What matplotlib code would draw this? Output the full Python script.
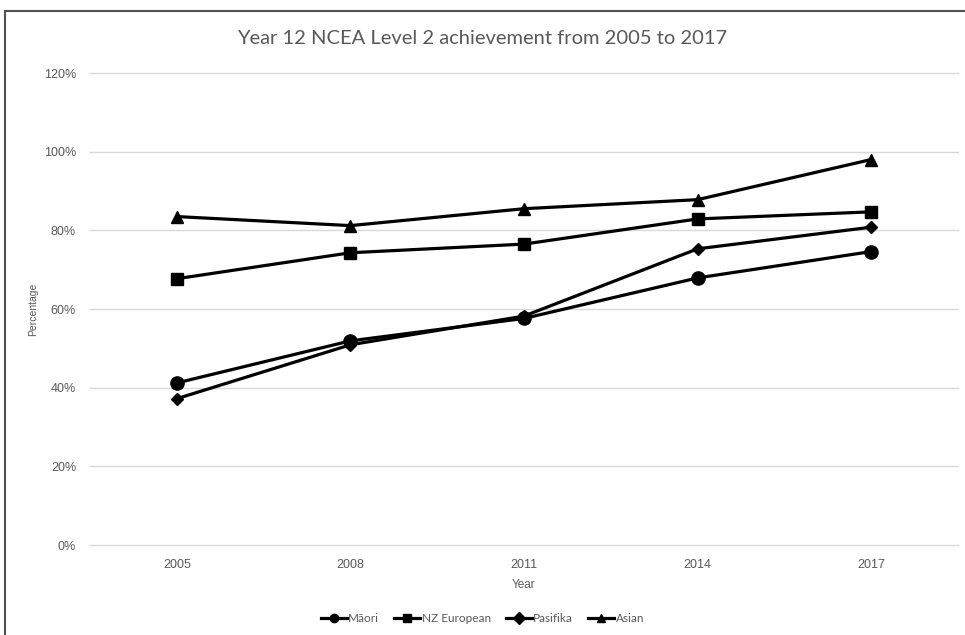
import matplotlib.pyplot as plt
from matplotlib.patches import Rectangle
from matplotlib.ticker import PercentFormatter

# --- Datos ---
years = ['2005', '2008', '2011', '2014', '2017']
maori = [41.2, 51.9, 57.6, 67.9, 74.6]
nz_european = [67.7, 74.3, 76.5, 82.9, 84.7]
pasifika = [37.2, 50.9, 58.2, 75.3, 80.8]
asian = [83.5, 81.2, 85.5, 87.8, 98.0]

series = [
    ('Māori', maori, 'o', 9.5),
    ('NZ European', nz_european, 's', 8.5),
    ('Pasifika', pasifika, 'D', 6),
    ('Asian', asian, '^', 8.5),
]

GRAY = '#595959'
narrow = ['Lato', 'DejaVu Sans']
plt.rcParams['font.family'] = ['Liberation Sans', 'DejaVu Sans']

fig = plt.figure(figsize=(9.65, 6.35), dpi=100)
ax = fig.add_axes([90 / 965, 90 / 635, 868 / 965, 472 / 635])

x = range(len(years))
for name, vals, mk, ms in series:
    ax.plot(x, vals, color='black', lw=2.3, marker=mk, ms=ms, label=name)

ax.set_xlim(-0.5, len(years) - 0.5)
ax.set_ylim(0, 120)
ax.set_yticks(range(0, 121, 20))
ax.yaxis.set_major_formatter(PercentFormatter(decimals=0))
ax.set_xticks(list(x))
ax.set_xticklabels(years)
ax.tick_params(length=0, labelsize=9, labelcolor=GRAY, pad=10)
ax.tick_params(axis='y', pad=10)
for gy in ax.get_yticks():
    ax.axhline(gy, color='#d9d9d9', lw=1, zorder=0, clip_on=False)
for s in ax.spines.values():
    s.set_visible(False)

ax.set_xlabel('Year', fontsize=8.5, color=GRAY, labelpad=6)
ax.set_ylabel('Percentage', fontsize=7.5, color=GRAY, labelpad=4)

fig.text(0.5, 1 - 38 / 635, 'Year 12 NCEA Level 2 achievement from 2005 to 2017',
         ha='center', va='center', fontsize=14.5, color=GRAY, family=narrow)

leg = fig.legend(loc='center', bbox_to_anchor=(0.5, 1 - 619 / 635), ncol=4,
                 frameon=False, handlelength=2.2, handletextpad=0.1, columnspacing=1.3,
                 prop={'family': narrow, 'size': 8.5})
for t in leg.get_texts():
    t.set_color(GRAY)
for h in leg.legend_handles:
    h.set_markersize(6)

# marco de la captura
fig.patches.append(Rectangle((5 / 965, -0.1), 1.1, 1 - 11 / 635 + 0.1,
                             transform=fig.transFigure, fill=False,
                             edgecolor='#505050', lw=1.5))

fig.savefig('out.png', dpi=100)
